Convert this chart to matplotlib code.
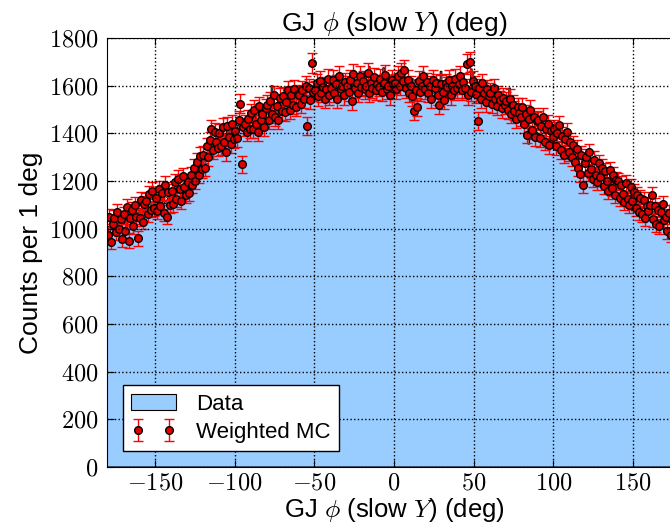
import numpy as np
import matplotlib
matplotlib.use("Agg")
import matplotlib.pyplot as plt
from matplotlib.ticker import FuncFormatter, MultipleLocator

# counts per 1 deg bin, -180 .. 179
data_counts = [
    1010, 975, 1030, 995, 1020, 1000, 980, 1040, 1005, 1015,
    1020, 1045, 1005, 1060, 1030, 1015, 1055, 1040, 1070, 1035,
    1075, 1050, 1090, 1065, 1080, 1110, 1085, 1100, 1070, 1105,
    1100, 1125, 1095, 1130, 1110, 1140, 1105, 1120, 1150, 1125,
    1140, 1130, 1165, 1145, 1170, 1155, 1180, 1160, 1195, 1175,
    1180, 1200, 1190, 1225, 1215, 1240, 1255, 1245, 1275, 1270,
    1285, 1300, 1320, 1310, 1345, 1360, 1350, 1375, 1365, 1390,
    1380, 1395, 1385, 1400, 1390, 1410, 1395, 1420, 1405, 1415,
    1420, 1410, 1435, 1425, 1440, 1430, 1450, 1445, 1460, 1455,
    1460, 1470, 1455, 1480, 1475, 1490, 1470, 1495, 1485, 1500,
    1490, 1505, 1500, 1600, 1510, 1525, 1515, 1520, 1535, 1530,
    1530, 1545, 1540, 1550, 1545, 1560, 1555, 1570, 1565, 1560,
    1570, 1565, 1580, 1575, 1585, 1570, 1590, 1585, 1580, 1595,
    1585, 1600, 1590, 1605, 1595, 1590, 1610, 1600, 1595, 1605,
    1600, 1610, 1595, 1615, 1605, 1600, 1620, 1610, 1605, 1615,
    1610, 1600, 1620, 1615, 1605, 1625, 1610, 1620, 1605, 1615,
    1615, 1625, 1610, 1620, 1680, 1615, 1625, 1610, 1620, 1630,
    1620, 1615, 1630, 1675, 1610, 1635, 1620, 1625, 1615, 1630,
    1625, 1620, 1635, 1615, 1630, 1620, 1640, 1625, 1615, 1630,
    1620, 1630, 1615, 1625, 1610, 1635, 1620, 1615, 1630, 1620,
    1615, 1625, 1610, 1620, 1605, 1625, 1615, 1610, 1620, 1660,
    1610, 1600, 1615, 1605, 1620, 1600, 1610, 1595, 1615, 1605,
    1600, 1610, 1595, 1605, 1590, 1600, 1595, 1585, 1670, 1590,
    1585, 1590, 1575, 1580, 1570, 1580, 1565, 1570, 1560, 1565,
    1555, 1560, 1545, 1550, 1535, 1540, 1525, 1530, 1520, 1515,
    1510, 1505, 1590, 1500, 1485, 1490, 1475, 1480, 1465, 1460,
    1455, 1450, 1440, 1445, 1355, 1430, 1420, 1425, 1410, 1405,
    1400, 1395, 1390, 1385, 1380, 1375, 1370, 1365, 1360, 1350,
    1345, 1340, 1335, 1330, 1320, 1315, 1310, 1300, 1295, 1290,
    1285, 1280, 1270, 1265, 1260, 1255, 1245, 1240, 1235, 1230,
    1225, 1220, 1215, 1210, 1200, 1195, 1190, 1185, 1180, 1175,
    1170, 1165, 1160, 1155, 1150, 1145, 1140, 1135, 1130, 1125,
    1120, 1115, 1110, 1105, 1100, 1095, 1090, 1085, 1080, 1075,
    1075, 1070, 1065, 1060, 1055, 1050, 1050, 1045, 1040, 1035,
    1035, 1030, 1030, 1025, 1020, 1020, 1015, 1010, 1010, 1005,
    1005, 1000, 1000, 995, 995, 990, 990, 985, 985, 980,
]

mc_counts = [
    975, 1050, 945, 1020, 1045, 985, 1070, 1000, 1040, 955,
    1060, 990, 1090, 950, 1045, 1080, 1010, 1100, 1050, 960,
    1045, 1120, 1030, 1105, 1115, 1060, 1145, 1080, 1160, 1085,
    1130, 1075, 1165, 1095, 1150, 1065, 1185, 1050, 1155, 1100,
    1160, 1105, 1195, 1125, 1210, 1165, 1115, 1220, 1175, 1140,
    1195, 1150, 1225, 1185, 1255, 1200, 1280, 1225, 1305, 1250,
    1310, 1255, 1345, 1300, 1370, 1420, 1330, 1405, 1365, 1340,
    1400, 1345, 1425, 1365, 1320, 1430, 1385, 1355, 1440, 1375,
    1410, 1380, 1455, 1525, 1270, 1425, 1440, 1405, 1460, 1420,
    1485, 1420, 1500, 1440, 1405, 1515, 1455, 1480, 1425, 1505,
    1520, 1455, 1535, 1480, 1560, 1470, 1515, 1455, 1550, 1495,
    1555, 1490, 1530, 1580, 1500, 1560, 1520, 1585, 1510, 1565,
    1560, 1525, 1580, 1545, 1600, 1430, 1590, 1540, 1695, 1575,
    1580, 1610, 1555, 1620, 1570, 1595, 1545, 1585, 1630, 1560,
    1590, 1625, 1570, 1605, 1545, 1640, 1585, 1600, 1560, 1615,
    1600, 1575, 1625, 1535, 1650, 1590, 1610, 1570, 1640, 1595,
    1620, 1585, 1600, 1655, 1570, 1610, 1590, 1635, 1580, 1605,
    1595, 1630, 1575, 1610, 1645, 1585, 1600, 1560, 1625, 1605,
    1610, 1585, 1640, 1600, 1655, 1620, 1665, 1590, 1625, 1570,
    1600, 1555, 1495, 1580, 1510, 1620, 1575, 1600, 1640, 1585,
    1615, 1570, 1600, 1545, 1625, 1590, 1610, 1560, 1520, 1605,
    1575, 1540, 1610, 1595, 1625, 1560, 1600, 1580, 1630, 1590,
    1605, 1640, 1580, 1615, 1590, 1690, 1560, 1700, 1575, 1620,
    1600, 1565, 1450, 1590, 1545, 1610, 1570, 1530, 1585, 1555,
    1570, 1525, 1590, 1545, 1515, 1560, 1540, 1505, 1550, 1520,
    1535, 1500, 1545, 1480, 1520, 1495, 1460, 1510, 1485, 1470,
    1510, 1440, 1480, 1395, 1460, 1500, 1415, 1470, 1385, 1450,
    1455, 1380, 1430, 1470, 1365, 1420, 1440, 1350, 1410, 1385,
    1420, 1345, 1400, 1435, 1330, 1390, 1310, 1375, 1405, 1320,
    1365, 1300, 1350, 1280, 1335, 1255, 1230, 1310, 1185, 1275,
    1300, 1235, 1320, 1250, 1210, 1290, 1225, 1195, 1275, 1215,
    1255, 1180, 1240, 1200, 1160, 1245, 1170, 1225, 1140, 1205,
    1200, 1130, 1185, 1145, 1110, 1190, 1125, 1100, 1175, 1115,
    1155, 1085, 1140, 1070, 1130, 1060, 1120, 1045, 1095, 1075,
    1100, 1140, 1040, 1095, 1020, 1080, 1010, 1070, 1105, 1035,
    1050, 990, 1065, 975, 1035, 1070, 990, 1030, 965, 1025,
]

plt.rcParams["font.family"] = ["Liberation Sans", "DejaVu Sans"]
plt.rcParams["mathtext.fontset"] = "cm"

edges = np.arange(-180, 181)
centers = edges[:-1] + 0.5
mc = np.array(mc_counts, dtype=float)

fig = plt.figure(figsize=(6.7, 5.31), dpi=100)
ax = fig.add_axes([107 / 670, 64 / 531, 574 / 670, 429 / 531])

ax.hist(centers, bins=edges, weights=data_counts, histtype="stepfilled",
        facecolor="#99ccff", edgecolor="black", linewidth=0.8, label="Data")
ax.errorbar(centers, mc, yerr=np.sqrt(mc), fmt="o", color="red",
            mfc="#e00000", mec="black", mew=1, ms=5.5, capsize=3.5,
            elinewidth=1, label="Weighted MC")

ax.set_xlim(-180, 180)
ax.set_ylim(0, 1800)
ax.xaxis.set_major_locator(MultipleLocator(50))
ax.yaxis.set_major_locator(MultipleLocator(200))
fmt = FuncFormatter(lambda v, p: "$%g$" % v)
ax.xaxis.set_major_formatter(fmt)
ax.yaxis.set_major_formatter(fmt)
ax.tick_params(direction="in", top=True, right=True, length=5,
               labelsize=17.5, pad=6)
ax.tick_params(axis="x", pad=4)
ax.grid(True, color="black", linestyle=":", linewidth=1)
ax.set_axisbelow(False)

ax.set_title(r"GJ $\phi$ (slow $Y$) (deg)", fontsize=19, pad=5)
ax.set_xlabel(r"GJ $\phi$ (slow $Y$) (deg)", fontsize=18.5, labelpad=1)
ax.set_ylabel("Counts per 1 deg", fontsize=19, labelpad=4)

ax.legend(loc="lower left", numpoints=2, fontsize=16, fancybox=False,
          framealpha=1, edgecolor="black", borderaxespad=0.7,
          handletextpad=0.9, labelspacing=0.3, borderpad=0.4)

fig.savefig("out.png", dpi=100)
